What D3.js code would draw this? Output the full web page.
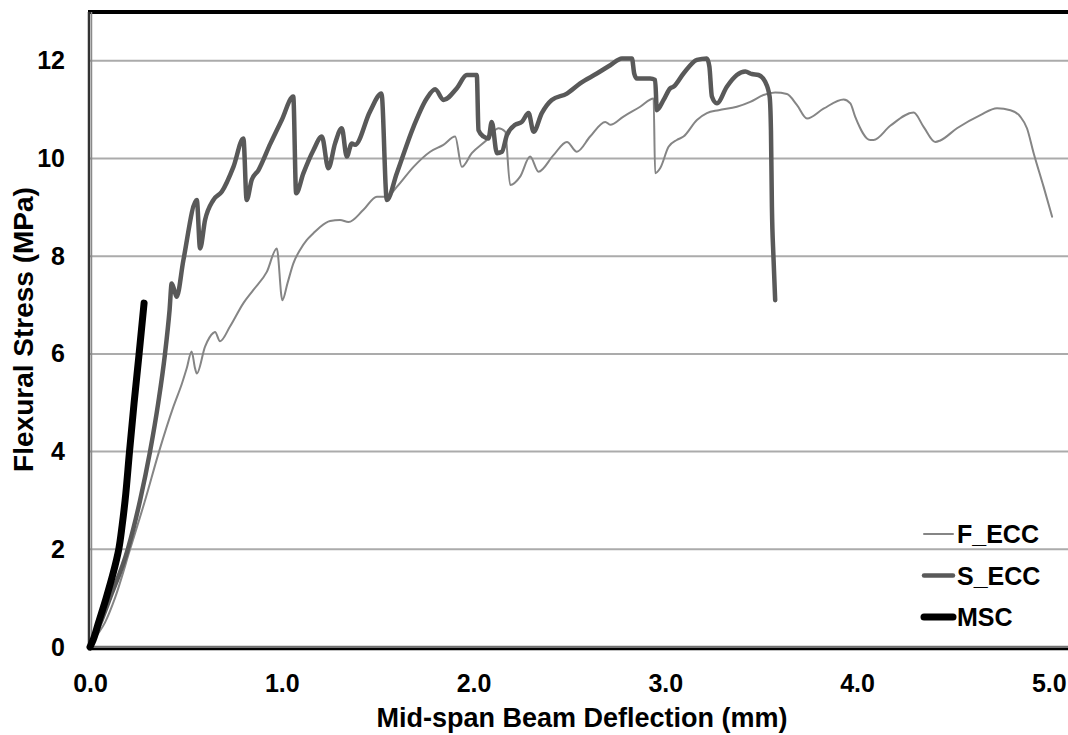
<!DOCTYPE html>
<html>
<head>
<meta charset="utf-8">
<script src="https://cdn.jsdelivr.net/npm/d3@7/dist/d3.min.js"></script>
<style>
  html, body { margin: 0; padding: 0; background: #fff; }
  svg { display: block; }
  text { font-family: "Liberation Sans", Arial, Helvetica, sans-serif; font-weight: bold; fill: #000; }
</style>
</head>
<body>
<svg id="chart" width="1068" height="735"></svg>
<script>
// Flexural stress vs. mid-span deflection for three beam mixes
// [deflection (mm), stress (MPa)]
const fEcc = [
  [0, 0], [0.03, 0.2], [0.078, 0.5], [0.13, 1.0], [0.209, 2.0], [0.287, 3.0],
  [0.36, 4.0], [0.435, 4.92], [0.48, 5.4], [0.504, 5.7], [0.53, 6.05], [0.548, 5.7],
  [0.557, 5.6], [0.6, 6.15], [0.643, 6.43], [0.652, 6.45], [0.678, 6.26], [0.73, 6.56],
  [0.8, 7.04], [0.852, 7.31], [0.922, 7.68], [0.974, 8.16], [1.003, 7.1], [1.03, 7.45],
  [1.06, 7.85], [1.095, 8.13], [1.13, 8.33], [1.165, 8.47], [1.2, 8.6], [1.252, 8.72],
  [1.304, 8.74], [1.348, 8.7], [1.426, 8.95], [1.496, 9.22], [1.548, 9.22], [1.6, 9.42],
  [1.687, 9.83], [1.774, 10.14], [1.843, 10.28], [1.904, 10.45], [1.939, 9.83], [1.991, 10.11],
  [2.069, 10.38], [2.13, 10.62], [2.165, 10.55], [2.191, 9.46], [2.243, 9.63], [2.295, 10.04],
  [2.339, 9.73], [2.417, 10.07], [2.487, 10.34], [2.539, 10.14], [2.608, 10.45], [2.687, 10.75],
  [2.713, 10.69], [2.782, 10.86], [2.869, 11.06], [2.939, 11.23], [2.947, 9.7], [2.973, 9.8],
  [3.017, 10.24], [3.06, 10.38], [3.095, 10.45], [3.165, 10.79], [3.217, 10.93], [3.278, 10.99],
  [3.373, 11.06], [3.443, 11.16], [3.512, 11.3], [3.573, 11.35], [3.634, 11.32], [3.686, 11.1],
  [3.739, 10.82], [3.825, 11.02], [3.93, 11.21], [3.965, 11.13], [3.99, 10.86], [4.069, 10.38],
  [4.086, 10.38], [4.173, 10.67], [4.295, 10.94], [4.347, 10.65], [4.408, 10.34], [4.434, 10.37],
  [4.521, 10.62], [4.643, 10.89], [4.73, 11.03], [4.8, 10.99], [4.851, 10.86], [4.886, 10.62],
  [4.921, 10.11], [4.973, 9.42], [5.017, 8.81]
];

const sEcc = [
  [0, 0], [0.05, 0.45], [0.104, 1.0], [0.197, 2.0], [0.261, 3.0], [0.313, 4.0],
  [0.356, 5.0], [0.391, 6.0], [0.415, 6.9], [0.426, 7.44], [0.44, 7.3], [0.452, 7.17],
  [0.487, 7.92], [0.557, 9.15], [0.574, 8.16], [0.6, 8.74], [0.643, 9.15], [0.687, 9.32],
  [0.748, 9.83], [0.8, 10.41], [0.817, 9.15], [0.843, 9.56], [0.878, 9.76], [0.94, 10.3],
  [1.0, 10.79], [1.06, 11.27], [1.075, 9.29], [1.113, 9.7], [1.165, 10.17], [1.209, 10.45],
  [1.243, 9.8], [1.278, 10.31], [1.313, 10.62], [1.339, 10.04], [1.365, 10.31], [1.382, 10.28],
  [1.46, 10.96], [1.52, 11.33], [1.548, 9.15], [1.6, 9.7], [1.687, 10.65], [1.756, 11.23],
  [1.8, 11.42], [1.843, 11.2], [1.913, 11.44], [1.965, 11.71], [2.017, 11.71], [2.026, 10.58],
  [2.052, 10.45], [2.078, 10.41], [2.095, 10.75], [2.122, 10.11], [2.148, 10.14], [2.174, 10.48],
  [2.217, 10.69], [2.252, 10.75], [2.287, 10.93], [2.313, 10.55], [2.356, 10.93], [2.408, 11.2],
  [2.487, 11.33], [2.556, 11.54], [2.643, 11.74], [2.713, 11.91], [2.774, 12.05], [2.826, 12.05],
  [2.838, 11.74], [2.852, 11.64], [2.921, 11.64], [2.947, 11.61], [2.956, 10.99], [2.991, 11.2],
  [3.026, 11.44], [3.043, 11.47], [3.095, 11.74], [3.165, 12.02], [3.217, 12.05], [3.23, 11.88],
  [3.243, 11.27], [3.269, 11.13], [3.321, 11.47], [3.373, 11.71], [3.417, 11.78], [3.452, 11.73],
  [3.486, 11.71], [3.521, 11.57], [3.544, 11.27], [3.551, 10.58], [3.556, 9.01], [3.564, 7.99],
  [3.573, 7.1]
];

const msc = [
  [0, 0], [0.016, 0.14], [0.043, 0.48], [0.084, 1.0], [0.12, 1.5], [0.15, 2.0],
  [0.168, 2.5], [0.183, 3.0], [0.206, 4.0], [0.23, 5.0], [0.256, 6.0], [0.282, 7.04]
];

const seriesNames = ["F_ECC", "S_ECC", "MSC"];
const xTicks = [0, 1, 2, 3, 4, 5];
const yTicks = [0, 2, 4, 6, 8, 10, 12];

// MSC rises monotonically in stress, so it is smoothed along y
const series = [
  { name: seriesNames[0], data: fEcc, color: "#858585", width: 2, curve: d3.curveMonotoneX },
  { name: seriesNames[1], data: sEcc, color: "#595959", width: 4.5, curve: d3.curveMonotoneX },
  { name: seriesNames[2], data: msc, color: "#000000", width: 7, curve: d3.curveMonotoneY }
];

const svg = d3.select("#chart");
const W = 1068, H = 735;
const plot = { left: 90, right: 1068, top: 12, bottom: 647 };

svg.append("rect").attr("width", W).attr("height", H).attr("fill", "#fff");

const x = d3.scaleLinear().domain([0, 5.1]).range([plot.left, plot.right]);
const y = d3.scaleLinear().domain([0, 13]).range([plot.bottom, plot.top]);

// horizontal gridlines
svg.append("g")
  .selectAll("line")
  .data(yTicks)
  .join("line")
  .attr("x1", plot.left).attr("x2", plot.right)
  .attr("y1", d => y(d)).attr("y2", d => y(d))
  .attr("stroke", "#ababab")
  .attr("stroke-width", 2);

// plot frame: top, left and bottom edges
svg.append("line")
  .attr("x1", plot.left - 2).attr("x2", plot.right)
  .attr("y1", plot.top).attr("y2", plot.top)
  .attr("stroke", "#000").attr("stroke-width", 4);
svg.append("line")
  .attr("x1", plot.left - 1).attr("x2", plot.left - 1)
  .attr("y1", plot.top).attr("y2", plot.bottom + 3)
  .attr("stroke", "#333").attr("stroke-width", 2.5);
svg.append("line")
  .attr("x1", plot.left + 1.5).attr("x2", plot.left + 1.5)
  .attr("y1", plot.top).attr("y2", plot.bottom)
  .attr("stroke", "#8a8a8a").attr("stroke-width", 1.5);
svg.append("line")
  .attr("x1", plot.left - 2).attr("x2", plot.right)
  .attr("y1", plot.bottom - 0.5).attr("y2", plot.bottom - 0.5)
  .attr("stroke", "#707070").attr("stroke-width", 1.5);
svg.append("line")
  .attr("x1", plot.left - 2).attr("x2", plot.right)
  .attr("y1", plot.bottom + 2).attr("y2", plot.bottom + 2)
  .attr("stroke", "#000").attr("stroke-width", 2.5);

// axes (labels only; frame is drawn above)
const xAxis = svg.append("g")
  .attr("transform", `translate(0,${plot.bottom})`)
  .call(d3.axisBottom(x).tickValues(xTicks).tickFormat(d3.format(".1f")).tickSize(0).tickPadding(27));
const yAxis = svg.append("g")
  .attr("transform", `translate(${plot.left},0)`)
  .call(d3.axisLeft(y).tickValues(yTicks).tickFormat(d3.format("d")).tickSize(0).tickPadding(25));
[xAxis, yAxis].forEach(g => {
  g.select(".domain").remove();
  g.selectAll("text")
    .attr("fill", "#000")
    .style("font-size", "25px")
    .style("font-weight", "bold")
    .style("font-family", '"Liberation Sans", Arial, sans-serif');
});

// axis titles
svg.append("text")
  .attr("x", 582).attr("y", 727)
  .attr("text-anchor", "middle")
  .style("font-size", "27px")
  .text("Mid-span Beam Deflection (mm)");
svg.append("text")
  .attr("transform", `translate(33,${(plot.top + plot.bottom) / 2}) rotate(-90)`)
  .attr("text-anchor", "middle")
  .style("font-size", "28px")
  .text("Flexural Stress (MPa)");

// curves
svg.append("g")
  .selectAll("path")
  .data(series)
  .join("path")
  .attr("d", d => d3.line().x(p => x(p[0])).y(p => y(p[1])).curve(d.curve)(d.data))
  .attr("fill", "none")
  .attr("stroke", d => d.color)
  .attr("stroke-width", d => d.width)
  .attr("stroke-linejoin", "round")
  .attr("stroke-linecap", "round");

// legend
const legend = svg.append("g").attr("transform", "translate(922,534)");
const item = legend.selectAll("g")
  .data(series)
  .join("g")
  .attr("transform", (d, i) => `translate(0,${i * 41.5})`);
item.append("line")
  .attr("x1", 2).attr("x2", 31)
  .attr("stroke", d => d.color)
  .attr("stroke-width", d => d.width)
  .attr("stroke-linecap", "round");
item.append("text")
  .attr("x", 35).attr("y", 9)
  .style("font-size", "25px")
  .text(d => d.name);
</script>
</body>
</html>
